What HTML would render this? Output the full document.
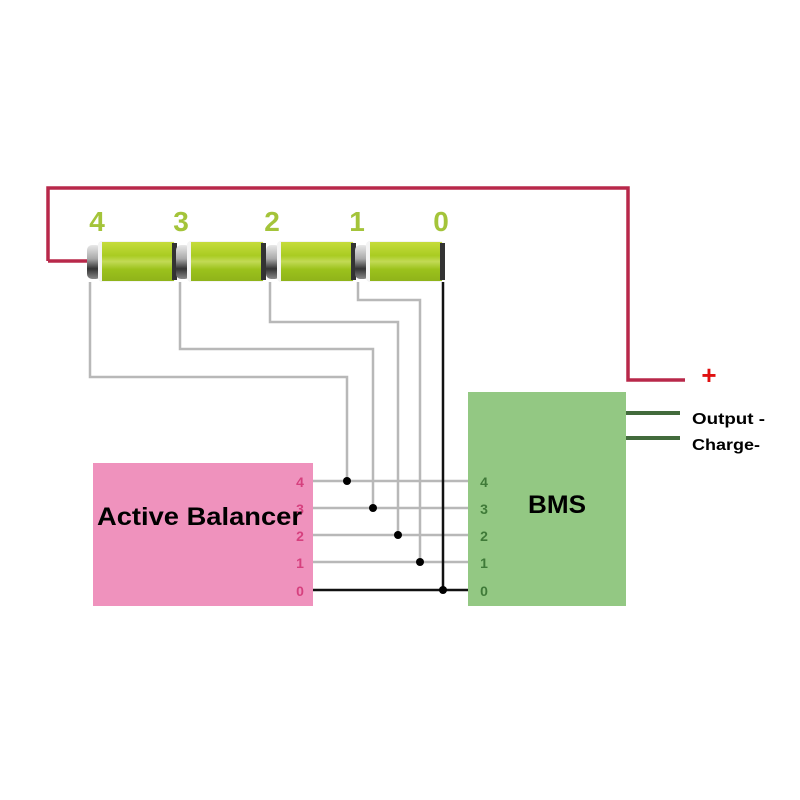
<!DOCTYPE html>
<html><head><meta charset="utf-8"><style>
html,body{margin:0;padding:0;background:#fff;}
svg{display:block;}
text{font-family:"Liberation Sans","DejaVu Sans",sans-serif;font-weight:bold;}
</style></head><body>
<svg width="800" height="800" viewBox="0 0 800 800" xmlns="http://www.w3.org/2000/svg">
<defs>
<linearGradient id="g" x1="0" y1="0" x2="0" y2="1">
<stop offset="0" stop-color="#c6dc3c"/><stop offset="0.35" stop-color="#a9cc22"/><stop offset="0.5" stop-color="#c2da55"/><stop offset="0.7" stop-color="#9cc21c"/><stop offset="1" stop-color="#8fb31a"/>
</linearGradient>
<linearGradient id="cap" x1="0" y1="0" x2="0" y2="1">
<stop offset="0" stop-color="#e8e8e8"/><stop offset="0.4" stop-color="#aaa"/><stop offset="0.7" stop-color="#333"/><stop offset="1" stop-color="#888"/>
</linearGradient>
</defs>
<polyline points="48,261 48,188 628,188 628,380 685,380" fill="none" stroke="#b8284a" stroke-width="3.5"/>
<line x1="48" y1="261" x2="90" y2="261" stroke="#b8284a" stroke-width="3.5"/>
<g>
<rect x="87" y="245" width="14" height="34" rx="5" fill="url(#cap)"/>
<rect x="98" y="241" width="78" height="41" rx="4" fill="#f4f4f4"/>
<rect x="102" y="242" width="72" height="39" fill="url(#g)"/>
<rect x="172" y="243" width="5" height="37" fill="#333"/>
</g>
<g transform="translate(89,0)">
<rect x="87" y="245" width="14" height="34" rx="5" fill="url(#cap)"/>
<rect x="98" y="241" width="78" height="41" rx="4" fill="#f4f4f4"/>
<rect x="102" y="242" width="72" height="39" fill="url(#g)"/>
<rect x="172" y="243" width="5" height="37" fill="#333"/>
</g>
<g transform="translate(179,0)">
<rect x="87" y="245" width="14" height="34" rx="5" fill="url(#cap)"/>
<rect x="98" y="241" width="78" height="41" rx="4" fill="#f4f4f4"/>
<rect x="102" y="242" width="72" height="39" fill="url(#g)"/>
<rect x="172" y="243" width="5" height="37" fill="#333"/>
</g>
<g transform="translate(268,0)">
<rect x="87" y="245" width="14" height="34" rx="5" fill="url(#cap)"/>
<rect x="98" y="241" width="78" height="41" rx="4" fill="#f4f4f4"/>
<rect x="102" y="242" width="72" height="39" fill="url(#g)"/>
<rect x="172" y="243" width="5" height="37" fill="#333"/>
</g>
<g fill="#a4c43a" font-size="28" text-anchor="middle">
<text x="97" y="231">4</text><text x="181" y="231">3</text><text x="272" y="231">2</text><text x="357" y="231">1</text><text x="441" y="231">0</text>
</g>
<g fill="none" stroke="#b8b8b8" stroke-width="2.5">
<polyline points="90,282 90,377 347,377 347,481"/>
<polyline points="180,282 180,349 373,349 373,508"/>
<polyline points="270,282 270,322 398,322 398,535"/>
<polyline points="358,282 358,300 420,300 420,562"/>
<line x1="313" y1="481" x2="468" y2="481"/>
<line x1="313" y1="508" x2="468" y2="508"/>
<line x1="313" y1="535" x2="468" y2="535"/>
<line x1="313" y1="562" x2="468" y2="562"/>
</g>
<g stroke="#111" stroke-width="2.5" fill="none">
<polyline points="443,282 443,590"/>
<line x1="313" y1="590" x2="468" y2="590"/>
</g>
<g fill="#000">
<circle cx="347" cy="481" r="4"/><circle cx="373" cy="508" r="4"/><circle cx="398" cy="535" r="4"/><circle cx="420" cy="562" r="4"/><circle cx="443" cy="590" r="4"/>
</g>
<rect x="93" y="463" width="220" height="143" fill="#ef92bd"/>
<rect x="468" y="392" width="158" height="214" fill="#93c883"/>
<g fill="#d6407e" font-size="14" text-anchor="middle">
<text x="300" y="487">4</text><text x="300" y="514">3</text><text x="300" y="541">2</text><text x="300" y="568">1</text><text x="300" y="596">0</text>
</g>
<text x="97" y="525" font-size="25" fill="#000" textLength="205" lengthAdjust="spacingAndGlyphs">Active Balancer</text>
<text x="528" y="513" font-size="25" fill="#000" textLength="58" lengthAdjust="spacingAndGlyphs">BMS</text>
<g fill="#3f7a38" font-size="14" text-anchor="middle">
<text x="484" y="487">4</text><text x="484" y="514">3</text><text x="484" y="541">2</text><text x="484" y="568">1</text><text x="484" y="596">0</text>
</g>
<line x1="626" y1="413" x2="680" y2="413" stroke="#426b3c" stroke-width="4"/>
<line x1="626" y1="438" x2="680" y2="438" stroke="#426b3c" stroke-width="4"/>
<text x="692" y="424" font-size="16" fill="#000" textLength="73" lengthAdjust="spacingAndGlyphs">Output -</text>
<text x="692" y="450" font-size="16" fill="#000" textLength="68" lengthAdjust="spacingAndGlyphs">Charge-</text>
<text x="709" y="384" font-size="26" fill="#e01010" text-anchor="middle">+</text>
</svg>
</body></html>
